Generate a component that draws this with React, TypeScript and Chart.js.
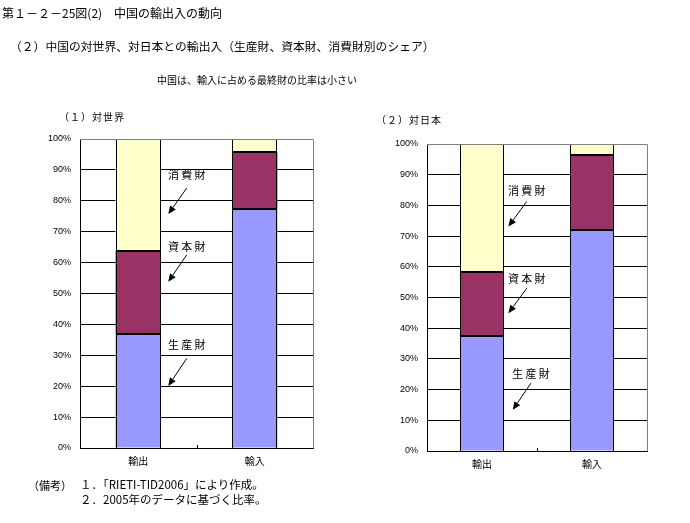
import React, { useEffect, useRef } from 'react';
import { Chart, registerables } from 'chart.js';
Chart.register(...registerables);

// ---- data ----
const categories = ['輸出', '輸入'];
const seriesNames = ['生産財', '資本財', '消費財'];
const worldProducer = [36.8, 77.4];
const worldCapital = [27.1, 18.5];
const worldConsumer = [36.1, 4.1];
const japanProducer = [37.3, 72.1];
const japanCapital = [21.1, 24.2];
const japanConsumer = [41.6, 3.7];
const yTickValues = [0, 10, 20, 30, 40, 50, 60, 70, 80, 90, 100];

const seriesColors = ['#9999FF', '#993366', '#FFFFCC'];

// annotation placement (category index / percent value)
type Note = { label: string; tx: number; ty: number; x1: number; y1: number; x2: number; y2: number };
const worldNotes: Note[] = [
  { label: '消費財', tx: 0.416, ty: 88.3, x1: 0.416, y1: 84.1, x2: 0.258, y2: 75.7 },
  { label: '資本財', tx: 0.416, ty: 65.1, x1: 0.416, y1: 62.5, x2: 0.258, y2: 53.8 },
  { label: '生産財', tx: 0.416, ty: 33.3, x1: 0.416, y1: 29.0, x2: 0.258, y2: 20.1 },
];
const japanNotes: Note[] = [
  { label: '消費財', tx: 0.407, ty: 84.8, x1: 0.407, y1: 81.3, x2: 0.24, y2: 73.1 },
  { label: '資本財', tx: 0.407, ty: 56.0, x1: 0.407, y1: 53.0, x2: 0.24, y2: 44.9 },
  { label: '生産財', tx: 0.445, ty: 25.3, x1: 0.445, y1: 22.1, x2: 0.28, y2: 13.4 },
];

const JP = "'Noto Sans CJK JP', sans-serif";

type PanelProps = {
  left: number;
  width: number;
  height: number;
  producer: number[];
  capital: number[];
  consumer: number[];
  notes: Note[];
  axisWidth: number;
  plotTop: number;
  plotBottom: number;
  padRight: number;
  barPct: number;
};

function Panel(p: PanelProps) {
  const ref = useRef<HTMLCanvasElement | null>(null);
  useEffect(() => {
    if (!ref.current) return;
    const values = [p.producer, p.capital, p.consumer];
    const overlay = {
      id: 'overlay',
      afterDatasetsDraw(chart: any) {
        const ctx = chart.ctx;
        ctx.save();
        ctx.strokeStyle = '#000';
        const n = chart.data.datasets.length;
        const metas = [];
        for (let i = 0; i < n; i++) metas.push(chart.getDatasetMeta(i));
        const count = metas[0].data.length;
        for (let j = 0; j < count; j++) {
          const bottomEl = metas[0].data[j];
          const topEl = metas[n - 1].data[j];
          const l = Math.round(bottomEl.x - bottomEl.width / 2);
          const r = Math.round(bottomEl.x + bottomEl.width / 2);
          const t = Math.round(topEl.y);
          const b = Math.round(bottomEl.base);
          ctx.lineWidth = 1;
          ctx.strokeRect(l + 0.5, t + 0.5, r - l - 1, b - t);
          ctx.lineWidth = 2;
          for (let i = 0; i < n - 1; i++) {
            const y = Math.round(metas[i].data[j].y);
            ctx.beginPath();
            ctx.moveTo(l, y);
            ctx.lineTo(r, y);
            ctx.stroke();
          }
        }
        ctx.restore();
      },
      afterDraw(chart: any) {
        const ctx = chart.ctx;
        const a = chart.chartArea;
        const xs = chart.scales.x;
        const ys = chart.scales.y;
        ctx.save();
        // grey plot border on top and right
        ctx.strokeStyle = '#808080';
        ctx.lineWidth = 1;
        ctx.beginPath();
        ctx.moveTo(a.left, Math.round(a.top) + 0.5);
        ctx.lineTo(Math.round(a.right) + 0.5, Math.round(a.top) + 0.5);
        ctx.lineTo(Math.round(a.right) + 0.5, a.bottom);
        ctx.stroke();
        // category boundary tick
        const mid = xs.getPixelForValue(0.5);
        ctx.strokeStyle = '#000';
        ctx.beginPath();
        ctx.moveTo(Math.round(mid) + 0.5, a.bottom);
        ctx.lineTo(Math.round(mid) + 0.5, a.bottom - 3);
        ctx.stroke();
        // annotations
        ctx.fillStyle = '#000';
        ctx.font = `11px ${JP}`;
        ctx.textAlign = 'center';
        ctx.textBaseline = 'middle';
        for (const n of p.notes) {
          ctx.fillText(n.label.split('').join('\u2009'), xs.getPixelForValue(n.tx), ys.getPixelForValue(n.ty));
          const x1 = xs.getPixelForValue(n.x1), y1 = ys.getPixelForValue(n.y1);
          const x2 = xs.getPixelForValue(n.x2), y2 = ys.getPixelForValue(n.y2);
          const ang = Math.atan2(y2 - y1, x2 - x1);
          const L = 8, W = 3.5;
          const bx = x2 - L * Math.cos(ang), by = y2 - L * Math.sin(ang);
          ctx.beginPath();
          ctx.moveTo(x1, y1);
          ctx.lineTo(bx, by);
          ctx.stroke();
          ctx.beginPath();
          ctx.moveTo(x2, y2);
          ctx.lineTo(bx + W * Math.sin(ang), by - W * Math.cos(ang));
          ctx.lineTo(bx - W * Math.sin(ang), by + W * Math.cos(ang));
          ctx.closePath();
          ctx.fill();
        }
        ctx.restore();
      },
    };
    const chart = new Chart(ref.current, {
      type: 'bar',
      data: {
        labels: categories,
        datasets: seriesNames.map((name, i) => ({
          label: name,
          data: values[i],
          backgroundColor: seriesColors[i],
          borderWidth: 0,
          categoryPercentage: 1,
          barPercentage: p.barPct,
        })),
      },
      options: {
        responsive: false,
        animation: false,
        devicePixelRatio: 1,
        layout: { padding: { left: 0, top: p.plotTop, right: p.padRight, bottom: 0 } },
        plugins: { legend: { display: false }, tooltip: { enabled: false } },
        scales: {
          x: {
            stacked: true,
            grid: { display: false, drawTicks: false },
            border: { display: true, color: '#000', width: 1 },
            ticks: { color: '#000', font: { family: JP, size: 10 }, padding: 7 },
            afterFit: (s: any) => { s.height = p.height - p.plotBottom; },
          },
          y: {
            stacked: true,
            min: 0,
            max: 100,
            afterBuildTicks: (s: any) => { s.ticks = yTickValues.map((v) => ({ value: v })); },
            grid: {
              drawTicks: false,
              color: (c: any) => (c.tick && c.tick.value === 100 ? '#808080' : '#000'),
              lineWidth: 1,
            },
            border: { display: true, color: '#000', width: 1 },
            ticks: {
              color: '#000',
              font: { family: "'Liberation Sans', Arial, sans-serif", size: 9 },
              padding: 9,
              callback: (v: any) => `${v}%`,
            },
            afterFit: (s: any) => { s.width = p.axisWidth; },
          },
        },
      },
      plugins: [overlay],
    } as any);
    return () => chart.destroy();
  }, []);
  return (
    <canvas
      ref={ref}
      width={p.width}
      height={p.height}
      style={{ position: 'absolute', left: p.left, top: 0, width: p.width, height: p.height }}
    />
  );
}

const txt = (s: string, left: number, cy: number, size: number, extra: any = {}) => (
  <div
    style={{
      position: 'absolute',
      left,
      top: cy,
      transform: 'translateY(-50%)',
      fontFamily: JP,
      fontSize: size,
      lineHeight: 1,
      whiteSpace: 'pre',
      color: '#000',
      ...extra,
    }}
  >
    {s}
  </div>
);

export default function App() {
  return (
    <div style={{ position: 'fixed', left: 0, top: 0, width: 690, height: 523, background: '#fff', overflow: 'hidden' }}>
      <Panel
        left={0}
        width={345}
        height={523}
        producer={worldProducer}
        capital={worldCapital}
        consumer={worldConsumer}
        notes={worldNotes}
        axisWidth={80}
        plotTop={139}
        plotBottom={448}
        padRight={32}
        barPct={0.39}
      />
      <Panel
        left={345}
        width={345}
        height={523}
        producer={japanProducer}
        capital={japanCapital}
        consumer={japanConsumer}
        notes={japanNotes}
        axisWidth={82}
        plotTop={144}
        plotBottom={451}
        padRight={43}
        barPct={0.4}
      />
      {txt('第１－２－25図(2)　中国の輸出入の動向', 2, 13, 12)}
      {txt('（２）中国の対世界、対日本との輸出入（生産財、資本財、消費財別のシェア）', 10, 46, 11.8)}
      {txt('中国は、輸入に占める最終財の比率は小さい', 157, 80, 10)}
      {txt('（１）対世界', 59, 117, 10, { letterSpacing: '1px' })}
      {txt('（２）対日本', 376, 120, 10, { letterSpacing: '1px' })}
      {txt('（備考）', 28, 485, 11)}
      {txt('１．「RIETI-TID2006」により作成。', 80, 485, 11.5)}
      {txt('２．2005年のデータに基づく比率。', 80, 500, 11.5)}
    </div>
  );
}
